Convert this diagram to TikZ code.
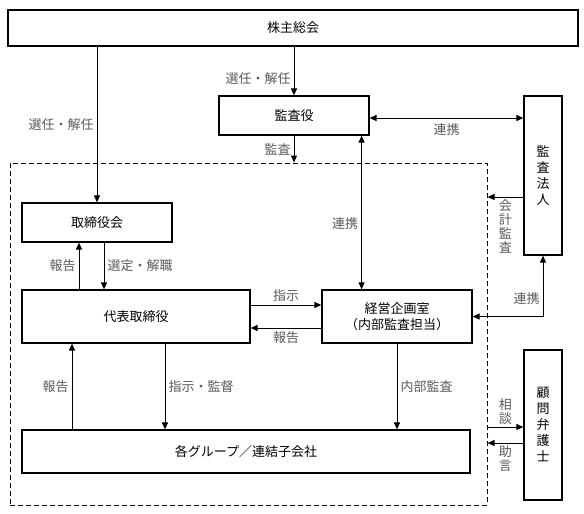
\documentclass[tikz,border=0pt]{standalone}
\usepackage{fontspec}
\setmainfont{Noto Sans CJK JP}
\usetikzlibrary{arrows.meta,calc}

\tikzset{
	box/.style={draw, line width=1.2pt, inner sep=0pt, font=\fontsize{13}{16}\selectfont},
	lbl/.style={text=black!65, inner sep=3pt, font=\fontsize{13}{14}\selectfont},
	conn/.style={line width=1pt, -{Triangle[length=7pt,width=6pt]}},
	biconn/.style={line width=1pt, {Triangle[length=7pt,width=6pt]}-{Triangle[length=7pt,width=6pt]}},
}

\begin{document}
\begin{tikzpicture}[x=1pt,y=-1pt]
	\useasboundingbox (0,0) rectangle (584,514);

	% boxes
	\node[box, minimum width=570pt, minimum height=36pt] (soukai) at (293,28) {株主総会};
	\node[box, minimum width=150pt, minimum height=39pt] (kansayaku) at (294,115.5) {監査役};
	\node[box, minimum width=38pt, minimum height=159pt, align=center] (hojin) at (543,175.5) {監\\査\\法\\人};
	\node[draw, line width=1pt, dashed, dash pattern=on 5pt off 3pt, minimum width=477pt, minimum height=342pt] (naibu) at (248.5,334) {};
	\node[box, minimum width=150pt, minimum height=39pt] (torikai) at (97,222.5) {取締役会};
	\node[box, minimum width=228pt, minimum height=53pt] (daihyo) at (136,316.5) {代表取締役};
	\node[box, minimum width=150pt, minimum height=53pt, align=center] (keiei) at (397,316.5) {経営企画室\\（内部監査担当）};
	\node[box, minimum width=448pt, minimum height=43pt] (group) at (246,451.5) {各グループ／連結子会社};
	\node[box, minimum width=38pt, minimum height=150pt, align=center] (komon) at (543,425) {顧\\問\\弁\\護\\士};

	% shareholders
	\draw[conn] (soukai.south -| torikai.north) -- node[lbl, left] {選任・解任} (torikai.north);
	\draw[conn] (soukai.south -| kansayaku.north) -- node[lbl, left, pos=0.65] {選任・解任} (kansayaku.north);

	% auditors
	\coordinate (yaku-e) at ($(kansayaku.east)+(0,2.5)$);
	\draw[biconn] (yaku-e) -- node[lbl, below=2pt] {連携} (yaku-e -| hojin.west);
	\draw[conn] (kansayaku.south) -- node[lbl, left] {監査} (kansayaku.south |- naibu.north);
	\coordinate (renkei) at ($(kansayaku.south east)+(-8,0)$);
	\draw[biconn] (renkei) -- node[lbl, left, pos=0.57] {連携} (renkei |- keiei.north);
	\draw[conn] (hojin.west |- 0,197) -- node[lbl, below, align=center, inner sep=2pt] {会\\計\\監\\査} (naibu.east |- 0,197);
	\draw[biconn] (hojin.south) |- node[lbl, left, pos=0.35] {連携} (keiei.east);

	% board
	\draw[conn] (daihyo.north -| 79,0) -- node[lbl, left] {報告} (torikai.south -| 79,0);
	\draw[conn] (torikai.south -| 104,0) -- node[lbl, right] {選定・解職} (daihyo.north -| 104,0);
	\draw[conn] (daihyo.east |- 0,305) -- node[lbl, above] {指示} (keiei.west |- 0,305);
	\draw[conn] (keiei.west |- 0,328) -- node[lbl, below] {報告} (daihyo.east |- 0,328);

	% group
	\draw[conn] (group.north -| 72,0) -- node[lbl, left] {報告} (daihyo.south -| 72,0);
	\draw[conn] (daihyo.south -| 165,0) -- node[lbl, right] {指示・監督} (group.north -| 165,0);
	\draw[conn] (keiei.south) -- node[lbl, right, pos=0.5] {内部監査} (group.north -| keiei.south);

	% lawyer
	\draw[conn] (naibu.east |- 0,427) -- node[lbl, above, align=center, inner sep=2pt] {相\\談} (komon.west |- 0,427);
	\draw[conn] (komon.west |- 0,443) -- node[lbl, below, align=center, inner sep=2pt] {助\\言} (naibu.east |- 0,443);
\end{tikzpicture}
\end{document}
